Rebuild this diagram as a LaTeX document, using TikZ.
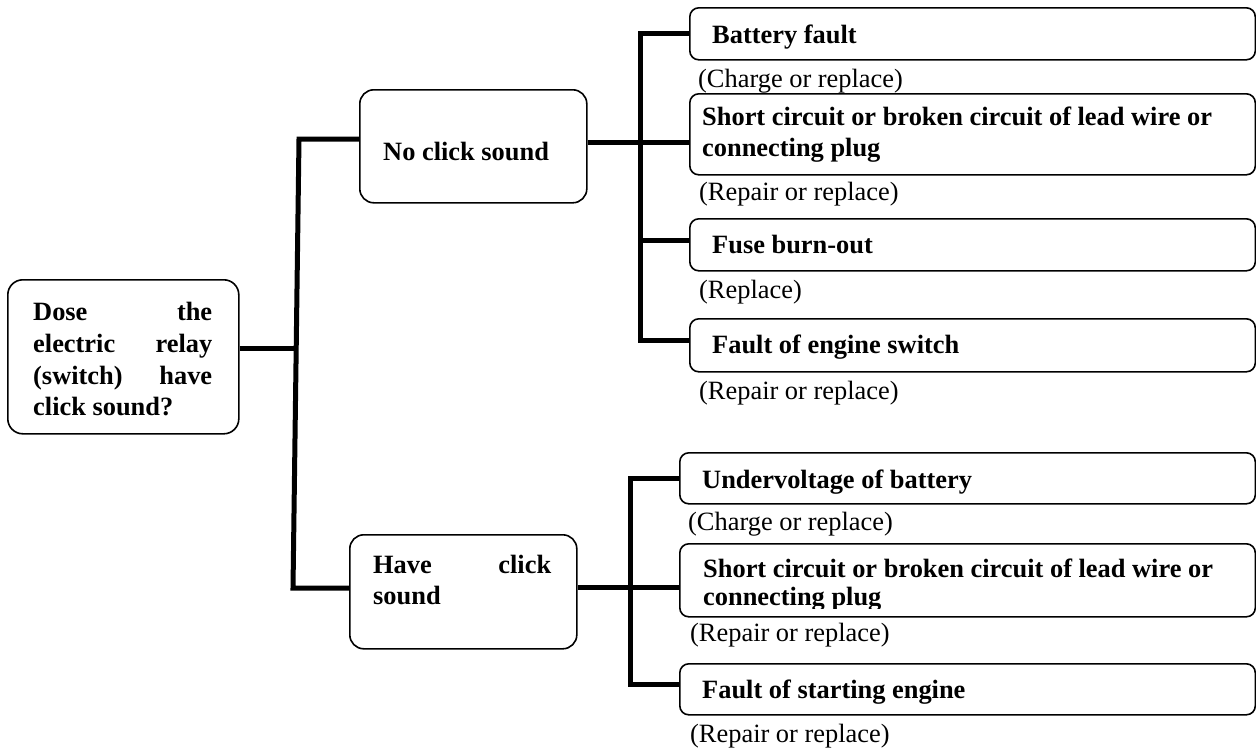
\documentclass[tikz,border=0pt]{standalone}
\usepackage{fontspec}
\setmainfont{Liberation Serif}
\begin{document}
\begin{tikzpicture}[x=1pt,y=-1pt,
  box/.style={draw, line width=1.6pt, rounded corners=9pt, inner sep=0pt, anchor=north west},
  bigbox/.style={box, rounded corners=14pt, minimum width=227pt},
  conn/.style={line width=5pt},
  bt/.style={font=\fontsize{26.4}{31.7}\selectfont\bfseries, inner sep=0pt, anchor=base west},
  nt/.style={font=\fontsize{26.4}{31.7}\selectfont, inner sep=0pt, anchor=base west}]
\useasboundingbox (0,0) rectangle (1256,753);

% boxes
\node[box, rounded corners=15pt, minimum width=231pt, minimum height=154pt] (root) at (7,279) {};
\node[bigbox, minimum height=113pt] (noclick) at (359,89) {};
\node[bigbox, minimum height=114pt] (haveclick) at (349,534) {};
\node[box, minimum width=565.5pt, minimum height=52pt] (nb1) at (689,7) {};
\node[box, minimum width=565.5pt, minimum height=81pt] (nb2) at (689,93) {};
\node[box, minimum width=565.5pt, minimum height=52pt] (nb3) at (689,218) {};
\node[box, minimum width=565.5pt, minimum height=53pt] (nb4) at (689,318) {};
\node[box, minimum width=575.5pt, minimum height=51pt] (nb5) at (679,452) {};
\node[box, minimum width=575.5pt, minimum height=73pt] (nb6) at (679,543) {};
\node[box, minimum width=575.5pt, minimum height=51pt] (nb7) at (679,663) {};

% texts in boxes
\node[bt] (troot) at (33,320.7) {\parbox[t]{179pt}{Dose\hfill the\\electric\hfill relay\\(switch)\hfill have\\click sound?}};
\node[bt] (tnoclick) at (383,160.7) {No click sound};
\node[bt] (thave) at (373,573) {\parbox[t]{178pt}{Have\hfill click\\sound}};
\node[bt] (t1) at (712,43) {Battery fault};
\node[bt] (t2) at (702,125) {\parbox[t]{540pt}{Short circuit or broken circuit of lead wire or\\connecting plug}};
\node[bt] (t3) at (712,253) {Fuse burn-out};
\node[bt] (t4) at (712,353) {Fault of engine switch};
\node[bt] (t5) at (702,488) {Undervoltage of battery};
\begin{scope}
  \clip (685,545) rectangle (1250,608);
  \node[bt, font=\fontsize{26.4}{28}\selectfont\bfseries] (t6) at (703,577) {\parbox[t]{540pt}{Short circuit or broken circuit of lead wire or\\connecting plug}};
\end{scope}
\node[bt] (t7) at (702,698) {Fault of starting engine};

% remedies
\node[nt] (r1) at (698,87) {(Charge or replace)};
\node[nt] (r2) at (699,200) {(Repair or replace)};
\node[nt] (r3) at (699,298) {(Replace)};
\node[nt] (r4) at (699,399) {(Repair or replace)};
\node[nt] (r5) at (688,530) {(Charge or replace)};
\node[nt] (r6) at (690,641) {(Repair or replace)};
\node[nt] (r7) at (690,742) {(Repair or replace)};

% connectors
\coordinate (r0) at (296,348);
\coordinate (rt) at (299,139);
\coordinate (rb) at (293,588);
\draw[conn] (root.east |- r0) -- (r0);
\draw[conn] (noclick.west |- rt) -- (rt) -- (rb) -- (haveclick.west |- rb);

\coordinate (a1) at (640,33);
\coordinate (a2) at (640,142);
\coordinate (a3) at (640,240);
\coordinate (a4) at (640,340);
\draw[conn] (nb1.west |- a1) -- (a1) -- (a4) -- (nb4.west |- a4);
\draw[conn] (noclick.east |- a2) -- (nb2.west |- a2);
\draw[conn] (a3) -- (nb3.west |- a3);

\coordinate (b1) at (630,478);
\coordinate (b2) at (630,587);
\coordinate (b3) at (630,684);
\draw[conn] (nb5.west |- b1) -- (b1) -- (b3) -- (nb7.west |- b3);
\draw[conn] (haveclick.east |- b2) -- (nb6.west |- b2);
\end{tikzpicture}
\end{document}
